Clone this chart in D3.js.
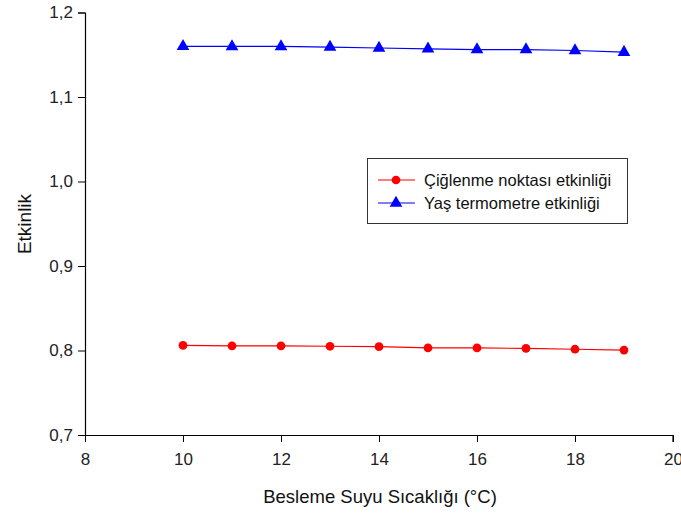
<!DOCTYPE html>
<html>
<head>
<meta charset="utf-8">
<script src="https://cdn.jsdelivr.net/npm/d3@7"></script>
<style>
  body { margin: 0; background: #fff; }
  svg { font-family: "Liberation Sans", Arial, sans-serif; }
</style>
</head>
<body>
<svg id="chart" width="681" height="513"></svg>
<script>
// sicaklik degerleri (°C)
let sicaklik = [10, 11, 12, 13, 14, 15, 16, 17, 18, 19];
// ciglenme noktasi etkinligi
let ciglenme = [0.806, 0.8055, 0.8055, 0.805, 0.8045, 0.803, 0.803, 0.8025, 0.8015, 0.8005];
// yas termometre etkinligi
let yasTermometre = [1.160, 1.1598, 1.1598, 1.159, 1.158, 1.157, 1.156, 1.156, 1.155, 1.153];
let xTicks = [8, 10, 12, 14, 16, 18, 20];
let yTicks = [0.7, 0.8, 0.9, 1.0, 1.1, 1.2];
let seriler = [
  { ad: "Çiğlenme noktası etkinliği", renk: "red", sekil: d3.symbolCircle, degerler: ciglenme },
  { ad: "Yaş termometre etkinliği", renk: "blue", sekil: d3.symbolTriangle, degerler: yasTermometre }
];

let svg = d3.select("#chart");

let x = d3.scaleLinear().domain([8, 20]).range([85, 673]);
let y = d3.scaleLinear().domain([0.7, 1.2]).range([435, 12.5]);

// eksenler
let xAxis = svg.append("g")
  .attr("transform", "translate(0,435)")
  .call(d3.axisBottom(x).tickValues(xTicks).tickSize(7).tickPadding(11).tickFormat(d3.format("d")));
let yAxis = svg.append("g")
  .attr("transform", "translate(85,0)")
  .call(d3.axisLeft(y).tickValues(yTicks).tickSize(7).tickPadding(5)
    .tickFormat(d => d3.format(".1f")(d).replace(".", ",")));

svg.selectAll(".domain").attr("stroke", "#000").attr("stroke-width", 1.2);
svg.selectAll(".tick line").attr("stroke", "#000");
svg.selectAll(".tick text").attr("font-size", "17px").attr("fill", "#222");
xAxis.select(".domain").attr("d", "M79,0.5H673V7");

// eksen basliklari
svg.append("text")
  .attr("x", 380).attr("y", 503)
  .attr("text-anchor", "middle")
  .attr("font-size", "18.5px")
  .attr("fill", "#111")
  .text("Besleme Suyu Sıcaklığı (°C)");
svg.append("text")
  .attr("transform", "translate(31,224) rotate(-90)")
  .attr("text-anchor", "middle")
  .attr("font-size", "19px")
  .attr("fill", "#111")
  .text("Etkinlik");

// cizgiler ve isaretler
let cizgi = d3.line().x((d, i) => x(sicaklik[i])).y(d => y(d));
seriler.forEach(function (s) {
  svg.append("path")
    .attr("d", cizgi(s.degerler))
    .attr("fill", "none")
    .attr("stroke", s.renk)
    .attr("stroke-width", 1.2);
  svg.selectAll(null)
    .data(s.degerler)
    .join("path")
    .attr("d", d3.symbol().type(s.sekil).size(s.sekil === d3.symbolCircle ? 60 : 70))
    .attr("transform", (d, i) => `translate(${x(sicaklik[i])},${y(d)})`)
    .attr("fill", s.renk);
});

// lejant
let legend = svg.append("g");
legend.append("rect")
  .attr("x", 367.5).attr("y", 158.5)
  .attr("width", 260).attr("height", 65)
  .attr("fill", "#fff").attr("stroke", "#333").attr("stroke-width", 1);
seriler.forEach(function (s, i) {
  let ly = 180 + i * 23;
  legend.append("line")
    .attr("x1", 378).attr("x2", 415)
    .attr("y1", ly).attr("y2", ly)
    .attr("stroke", s.renk).attr("stroke-width", 1.2);
  legend.append("path")
    .attr("d", d3.symbol().type(s.sekil).size(s.sekil === d3.symbolCircle ? 60 : 70))
    .attr("transform", `translate(396,${ly})`)
    .attr("fill", s.renk);
  legend.append("text")
    .attr("x", 424).attr("y", ly + 5.5)
    .attr("font-size", "16.5px")
    .attr("fill", "#111")
    .text(s.ad);
});
</script>
</body>
</html>
